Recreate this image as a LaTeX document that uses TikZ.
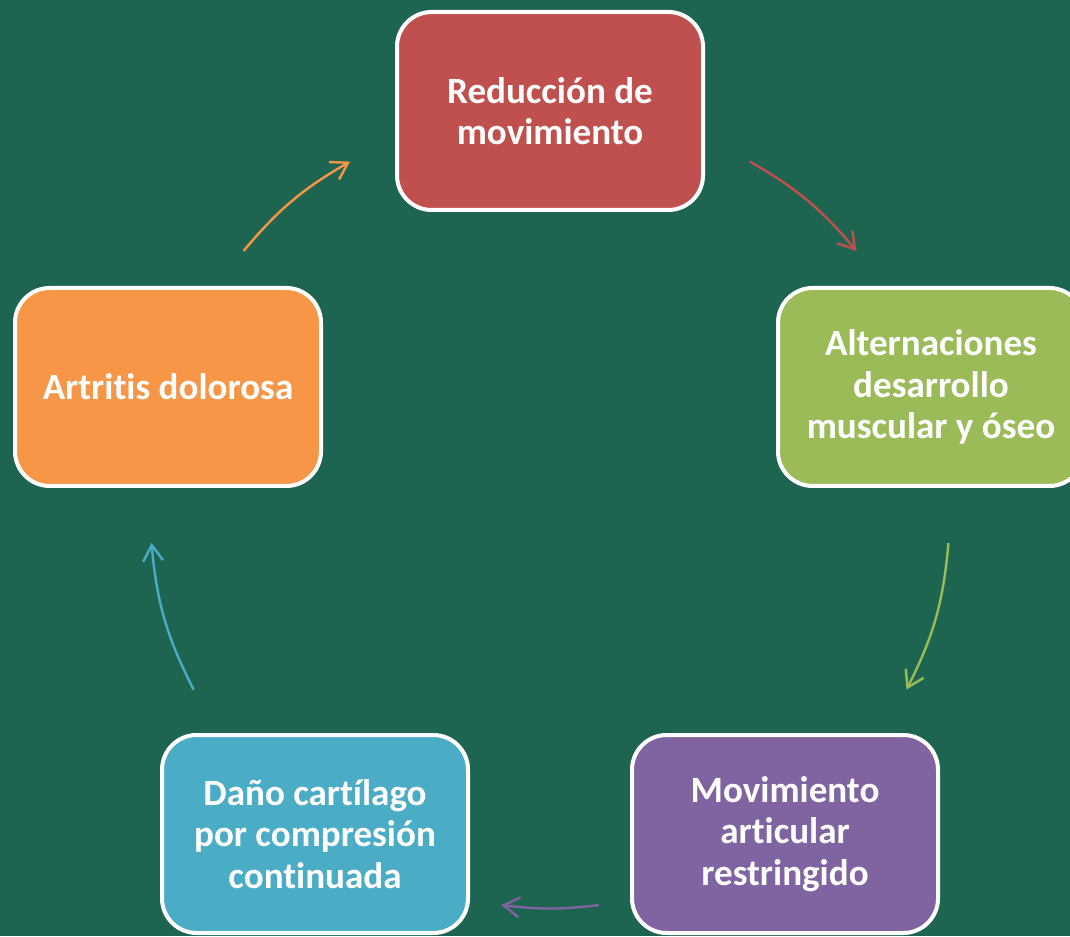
\documentclass[tikz,border=0pt]{standalone}
\usepackage{fontspec}
\setmainfont{Carlito}[Ligatures={NoCommon}]
\usetikzlibrary{arrows.meta,calc}
\definecolor{backgroundColor}{HTML}{1D6550}
\definecolor{reductionColor}{HTML}{C0504D}
\definecolor{alterationColor}{HTML}{9BBB59}
\definecolor{restrictedColor}{HTML}{8064A2}
\definecolor{cartilageColor}{HTML}{4BACC6}
\definecolor{arthritisColor}{HTML}{F79646}

\begin{document}
\begin{tikzpicture}[x=0.75pt,y=0.75pt,%
    >={Straight Barb[length=12pt,width=15pt]},align=center,%
    every node/.style={font=\bfseries\fontsize{27.8}{31}\selectfont}]
    \tikzstyle{state}=[text centered,text=white,%
      rectangle,rounded corners=26pt,draw=white,line width=3pt,%
      minimum width=229.5pt,minimum height=148.5pt]
    \tikzstyle{link}=[->,line width=1.8pt]
    % All state styles
    \tikzstyle{reduction}=[state,fill=reductionColor]
    \tikzstyle{alteration}=[state,fill=alterationColor]
    \tikzstyle{restricted}=[state,fill=restrictedColor]
    \tikzstyle{cartilage}=[state,fill=cartilageColor]
    \tikzstyle{arthritis}=[state,fill=arthritisColor]
    % Background
    \fill[backgroundColor] (0,0) rectangle (1070,936);
    \clip (0,0) rectangle (1070,936);
    % All states
    \node (reduction) [reduction] at (550,825)   {Reducción de\\movimiento};
    \node (alteration) [alteration] at (931,549) {Alternaciones\\desarrollo\\muscular y óseo};
    \node (restricted) [restricted] at (785,102) {Movimiento\\articular\\restringido};
    \node (cartilage) [cartilage] at (315,102)   {Daño cartílago\\por compresión\\continuada};
    \node (arthritis) [arthritis] at (168,549)   {Artritis dolorosa};
    % Arc ends on the ring
    \coordinate (ring) at (550,428);
    \coordinate (reductionOut) at ($(ring)+(60:400)$);
    \coordinate (alterationIn) at ($(ring)+(40:400)$);
    \coordinate (alterationOut) at ($(ring)+(-5:400)$);
    \coordinate (restrictedIn) at ($(ring)+(-27:400)$);
    \coordinate (restrictedOut) at ($(ring)+(-83:400)$);
    \coordinate (cartilageIn) at ($(ring)+(-97:400)$);
    \coordinate (cartilageOut) at ($(ring)+(-153:400)$);
    \coordinate (arthritisIn) at ($(ring)+(-175:400)$);
    \coordinate (arthritisOut) at ($(ring)+(140:400)$);
    \coordinate (reductionIn) at ($(ring)+(120:400)$);
    % Edges
    \draw [link,reductionColor] (reductionOut) to[bend left=10] (alterationIn);
    \draw [link,alterationColor] (alterationOut) to[bend left=11] (restrictedIn);
    \draw [link,restrictedColor] (restrictedOut) to[bend left=7] (cartilageIn);
    \draw [link,cartilageColor] (cartilageOut) to[bend left=11] (arthritisIn);
    \draw [link,arthritisColor] (arthritisOut) to[bend left=10] (reductionIn);
  \end{tikzpicture}
\end{document}
